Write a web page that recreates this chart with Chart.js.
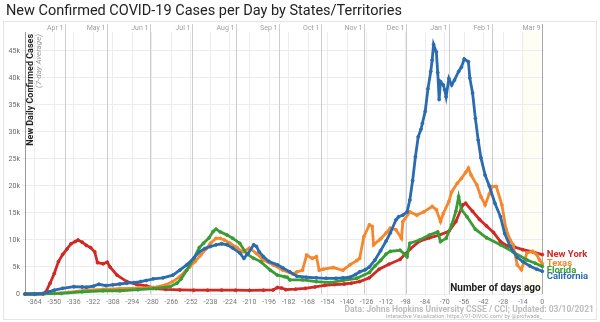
<!DOCTYPE html>
<html>
<head>
<meta charset="utf-8">
<script src="https://cdn.jsdelivr.net/npm/chart.js@4/dist/chart.umd.min.js"></script>
<style>
  html, body { margin: 0; padding: 0; background: #fff; }
  canvas { display: block; }
</style>
</head>
<body>
<canvas id="chart" width="600" height="322"></canvas>
<script>
// days before Mar 9, 2021 and 7-day average of new cases
const nyDays = [-371, -364, -358, -356, -353, -350, -347, -344, -341, -338, -335, -333, -330, -327, -324, -321, -319, -315, -312, -310, -305, -298, -291, -284, -277, -270, -260, -250, -240, -230, -220, -210, -200, -193, -190, -187, -184, -177, -170, -163, -156, -149, -142, -137, -131, -124, -117, -110, -102, -95, -88, -81, -74, -67, -62, -57, -55, -50, -45, -40, -35, -30, -25, -20, -14, -7, 0];
const nyCases = [0, 0, 0, 400, 2000, 3800, 6000, 7300, 8300, 9300, 9700, 10000, 9600, 9000, 8600, 7800, 5800, 5600, 5900, 5000, 3500, 2300, 1800, 1500, 1000, 850, 750, 700, 700, 720, 700, 680, 700, 750, 1200, 1100, 800, 900, 1050, 1300, 1600, 1750, 1850, 2000, 2300, 3000, 4600, 5500, 6400, 8300, 9800, 10400, 10900, 11600, 13400, 16500, 16800, 15300, 13800, 12600, 11400, 9700, 8900, 8700, 8200, 7800, 7300];

const txDays = [-371, -364, -350, -340, -327, -315, -303, -290, -279, -270, -265, -260, -256, -253, -249, -245, -241, -238, -234, -231, -228, -224, -219, -215, -210, -205, -200, -193, -186, -179, -176, -172, -169, -165, -162, -160, -157, -150, -143, -138, -133, -131, -128, -124, -122, -121, -116, -112, -109, -105, -101, -100, -95, -90, -85, -79, -76, -73, -71, -67, -65, -61, -58, -55, -53, -51, -47, -44, -41, -38, -36, -33, -29, -26, -23, -21, -18, -15, -13, -11, -7, -4, -2, 0];
const txCases = [0, 0, 100, 300, 700, 850, 1000, 1100, 1200, 1700, 2300, 3200, 4200, 5000, 6000, 7200, 8400, 9400, 10300, 10300, 10000, 9400, 8600, 7800, 8500, 7500, 6300, 5400, 4400, 3700, 4100, 4400, 7200, 6600, 6900, 4400, 4600, 4900, 4400, 5400, 6200, 6600, 10600, 12800, 12500, 9100, 10200, 11300, 12200, 11900, 10300, 13400, 15200, 14600, 15200, 16200, 15600, 13400, 14900, 17100, 18900, 20500, 21400, 22500, 23300, 22000, 20200, 18000, 16500, 18500, 19900, 19900, 16500, 12000, 10000, 9100, 5400, 4500, 6000, 7600, 7900, 7300, 6300, 5600];

const flDays = [-371, -364, -345, -330, -315, -303, -290, -279, -267, -262, -259, -255, -250, -246, -243, -239, -236, -234, -231, -226, -222, -217, -212, -207, -202, -195, -190, -185, -183, -181, -172, -162, -152, -143, -133, -124, -120, -116, -112, -109, -102, -99, -97, -95, -88, -81, -75, -73, -69, -65, -62, -60, -58, -54, -48, -40, -30, -21, -11, -5, 0];
const flCases = [0, 0, 100, 400, 600, 600, 800, 1000, 1350, 2000, 2800, 4400, 6600, 8600, 9400, 10400, 11600, 12000, 11500, 10900, 10300, 9400, 7400, 6600, 6000, 4400, 3500, 3200, 3100, 2600, 2600, 2300, 2100, 2500, 2900, 4000, 5200, 6200, 7400, 7900, 8100, 7400, 6900, 9400, 10000, 10900, 11500, 9700, 10300, 12800, 15300, 18000, 15600, 14300, 12000, 10400, 9100, 7800, 6300, 5700, 5100];

const caDays = [-371, -364, -358, -354, -350, -344, -336, -330, -327, -322, -318, -313, -308, -303, -298, -293, -288, -284, -279, -272, -265, -260, -255, -250, -246, -242, -238, -234, -230, -226, -222, -217, -214, -211, -207, -205, -203, -200, -196, -190, -186, -181, -176, -169, -162, -155, -148, -143, -138, -134, -131, -127, -124, -120, -116, -112, -109, -105, -103, -100, -97, -95, -93, -91, -89, -87, -86, -84, -82, -80, -79, -78, -76, -75, -74, -73, -71, -70, -69, -67, -65, -63, -60, -58, -56, -53, -52, -50, -48, -46, -44, -41, -38, -34, -30, -27, -23, -18, -14, -9, -4, 0];
const caCases = [0, 0, 100, 400, 700, 1050, 1350, 1300, 1250, 1450, 1800, 1550, 1700, 1850, 2000, 2100, 2300, 2500, 2800, 3000, 3500, 4400, 5400, 6600, 7800, 8400, 8800, 9100, 9300, 9100, 8500, 7600, 6600, 7500, 9100, 8800, 7800, 6900, 6000, 5400, 4800, 4100, 3300, 3100, 3000, 2900, 2900, 3000, 3100, 3600, 4100, 4500, 5000, 6300, 8000, 9800, 11300, 13700, 14300, 14600, 15200, 17400, 21000, 25400, 29100, 30500, 31600, 33800, 38000, 41200, 43300, 46200, 44800, 41000, 36000, 39300, 38700, 37800, 36500, 39900, 38700, 39600, 41200, 42000, 43500, 43000, 40000, 37200, 32500, 28500, 25200, 22000, 20000, 16800, 14300, 11200, 8800, 6800, 6000, 5200, 4600, 4200];

const stateNames = ['California', 'Florida', 'Texas', 'New York'];
const stateColors = ['#2b6cb0', '#3b9b35', '#f5872c', '#cf2a24'];

const dayTicks = [-364, -350, -336, -322, -308, -294, -280, -266, -252, -238, -224, -210, -196, -182, -168, -154, -140, -126, -112, -98, -84, -70, -56, -42, -28, -14, 0];
const caseTicks = [0, 5000, 10000, 15000, 20000, 25000, 30000, 35000, 40000, 45000];
const monthLabels = ['Apr 1', 'May 1', 'Jun 1', 'Jul 1', 'Aug 1', 'Sep 1', 'Oct 1', 'Nov 1', 'Dec 1', 'Jan 1', 'Feb 1', 'Mar 9'];
const monthDays = [-342, -312, -281, -251, -220, -189, -159, -128, -98, -67, -36, 0];

const series = [
    { days: caDays, cases: caCases },
    { days: flDays, cases: flCases },
    { days: txDays, cases: txCases },
    { days: nyDays, cases: nyCases }
];

function toPoints(days, cases) {
    return days.map((d, i) => ({ x: d, y: cases[i] }));
}

const decor = {
    id: 'decor',
    beforeDraw(chart) {
        const { ctx, chartArea: a, scales: { x } } = chart;
        ctx.save();
        ctx.fillStyle = '#fff';
        ctx.fillRect(0, 0, chart.width, chart.height);
        // outer frame
        ctx.strokeStyle = '#e4e4e4';
        ctx.lineWidth = 1;
        ctx.strokeRect(3.5, 21.5, 593, 298);
        // recent days band
        ctx.fillStyle = 'rgba(255, 250, 215, 0.25)';
        ctx.fillRect(x.getPixelForValue(-14), a.top, x.getPixelForValue(0) - x.getPixelForValue(-14), a.bottom - a.top);
        ctx.restore();
    },
    beforeDatasetsDraw(chart) {
        const { ctx, chartArea: a, scales: { x } } = chart;
        ctx.save();
        ctx.font = '7px Roboto';
        ctx.textAlign = 'right';
        ctx.textBaseline = 'middle';
        monthDays.forEach((d, i) => {
            const px = Math.round(x.getPixelForValue(d)) + 0.5;
            ctx.strokeStyle = i === monthDays.length - 1 ? '#aaa' : '#cdcdcd';
            ctx.lineWidth = 1;
            ctx.beginPath();
            ctx.moveTo(px, 24);
            ctx.lineTo(px, a.bottom);
            ctx.stroke();
            ctx.fillStyle = '#a0a0a0';
            ctx.fillText(monthLabels[i], px - 2, 28);
        });
        ctx.restore();
    },
    afterDraw(chart) {
        const { ctx, chartArea: a, scales: { y } } = chart;
        ctx.save();
        // title
        ctx.fillStyle = '#222';
        ctx.font = '14.5px Roboto';
        ctx.textAlign = 'left';
        ctx.textBaseline = 'middle';
        ctx.fillText('New Confirmed COVID-19 Cases per Day by States/Territories', 6, 11);

        // y axis title
        ctx.save();
        ctx.translate(31, a.top + 2);
        ctx.rotate(-Math.PI / 2);
        ctx.textAlign = 'right';
        ctx.font = 'bold 9px Roboto';
        ctx.fillStyle = '#222';
        ctx.fillText('New Daily Confirmed Cases', 0, 0);
        ctx.font = 'italic 8px Roboto';
        ctx.fillStyle = '#999';
        ctx.fillText('(7-day Average)', 0, 8);
        ctx.restore();

        // x axis title
        ctx.font = 'bold 10px Roboto';
        ctx.fillStyle = '#222';
        ctx.textAlign = 'right';
        ctx.fillText('Number of days ago', a.right - 3, 288);

        // footnotes
        ctx.font = 'bold 8.5px Roboto';
        ctx.fillStyle = '#bdbdbd';
        ctx.fillText('Data: Johns Hopkins University CSSE / CCI; Updated: 03/10/2021', 594, 310);
        ctx.font = '5.5px Roboto';
        ctx.fillStyle = '#aaa';
        ctx.fillText('Interactive Visualization: https://91-DIVOC.com/ by @profwade_', 542, 316.5);

        // state labels at line ends
        const ends = series.map((s, i) => ({
            name: stateNames[i],
            color: stateColors[i],
            py: y.getPixelForValue(s.cases[s.cases.length - 1])
        })).sort((p, q) => p.py - q.py);
        for (let i = 1; i < ends.length; i++) {
            if (ends[i].py < ends[i - 1].py + 6.5) ends[i].py = ends[i - 1].py + 6.5;
        }
        ctx.font = 'bold 9.5px Roboto';
        ctx.textAlign = 'left';
        ends.forEach(e => {
            ctx.fillStyle = e.color;
            ctx.fillText(e.name, a.right + 3, e.py);
        });
        ctx.restore();
    }
};

new Chart(document.getElementById('chart'), {
    type: 'line',
    data: {
        datasets: series.map((s, i) => ({
            label: stateNames[i],
            data: toPoints(s.days, s.cases),
            borderColor: stateColors[i],
            backgroundColor: stateColors[i],
            pointBackgroundColor: stateColors[i],
            pointBorderColor: stateColors[i],
            borderWidth: 2.8,
            pointRadius: 1.5,
            pointBorderWidth: 0.8,
            tension: 0,
            clip: 4
        }))
    },
    options: {
        responsive: false,
        animation: false,
        layout: { padding: { left: 0, right: 56.3, top: 32, bottom: 14 } },
        plugins: {
            legend: { display: false },
            tooltip: { enabled: false }
        },
        scales: {
            x: {
                type: 'linear',
                min: -371,
                max: 1,
                afterBuildTicks: scale => { scale.ticks = dayTicks.map(v => ({ value: v })); },
                afterFit: scale => { scale.height = 14; },
                ticks: { font: { size: 7, family: 'Roboto' }, color: '#777', padding: 1, maxRotation: 0, autoSkip: false },
                grid: { color: '#ebebf0', tickLength: 3 },
                border: { display: false }
            },
            y: {
                min: 0,
                max: 48500,
                afterBuildTicks: scale => { scale.ticks = caseTicks.map(v => ({ value: v })); },
                afterFit: scale => { scale.width = 25; },
                ticks: {
                    font: { size: 7, family: 'Roboto' },
                    color: '#666',
                    padding: 2,
                    callback: v => v === 0 ? '0' : (v / 1000) + 'k'
                },
                grid: { color: '#ebebf0', tickLength: 3 },
                border: { color: '#999' }
            }
        }
    },
    plugins: [decor]
});
</script>
</body>
</html>
